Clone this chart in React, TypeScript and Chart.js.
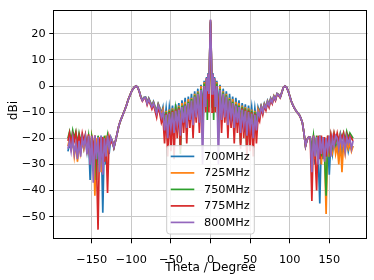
import React, { useEffect, useRef } from "react";
import { Chart, registerables } from "chart.js";

Chart.register(...registerables);

// Angle grid (degrees): 2-degree steps, 1-degree steps around boresight
const theta: number[] = [];
for (let t = -180; t <= -6; t += 2) theta.push(t);
for (let t = -5; t <= 5; t += 1) theta.push(t);
for (let t = 6; t <= 180; t += 2) theta.push(t);

const labels = ["700MHz", "725MHz", "750MHz", "775MHz", "800MHz"];
const colors = ["#1f77b4", "#ff7f0e", "#2ca02c", "#d62728", "#9467bd"];
const xTicks = [-150, -100, -50, 0, 50, 100, 150];
const yTicks = [-50, -40, -30, -20, -10, 0, 10, 20];

const s700 = [
  -25, -22, -24, -21, -25, -23, -27, -22, -25, -21, -24,
  -20, -25, -19.5, -36, -20, -30, -19, -27, -20, -26, -19, -48.5, -20, -30, -19.5, -26, -20,
  -21.3, -23.8, -21.2, -18.5, -15.7, -13.6, -12.1, -10.4, -8.9, -7.2, -5.2, -3.7, -2.2, -1.1, -0.3,
  0.1, -0.4, -1.9, -4, -5.3, -4.3, -4.2, -6.3, -4.6, -6, -7.4, -5.9, -7.8, -9.5, -6.7, -8.2, -10.5,
  -8, -14, -8.5, -15, -8, -13, -7.5, -16, -7, -12, -6.5, -14, -5.5, -11, -4.5, -13, -4, -10, -3, -12, -2, -9, -1, -11, 0.5, -8, 2, -4,
  3.5, -1, 5, -2, 12, 24.5, 12, -2, 5, -1, 3.5,
  -4, 2, -8, 0.5, -11, -1, -9, -2, -12, -3, -10, -4, -13, -4.5, -11, -5.5, -14, -6.5, -12, -7, -16, -7.5, -13, -8, -15, -8.5, -14, -8,
  -10, -7.5, -9.3, -6.6, -8, -5.5, -7, -4.6, -5.9, -3.7, -4.9, -2.8, -3.2, -4.1, -2.4, -0.5, 0.1,
  -0.4, -1.7, -3.7, -5.7, -7.2, -8.4, -9.4, -10.2, -10.9, -12.2, -13.9, -17.9, -22.8, -20.4, -19.6,
  -20, -26, -19.5, -30, -20, -27, -45, -20, -28, -20, -27, -20, -34, -21, -26, -21, -24,
  -22, -25, -21, -26, -22, -24, -21, -25, -22, -24, -23,
];

const s725 = [
  -23, -20, -24, -21, -27, -22, -29, -23, -26, -21, -24,
  -20, -24, -19, -29, -19, -22, -42, -20, -28, -19.5, -33, -20, -29, -19, -24, -19.5, -21,
  -21.2, -23.6, -21.1, -18.4, -15.6, -13.5, -12, -10.4, -8.9, -7.2, -5.2, -3.7, -2.2, -1.1, -0.3,
  0, -0.5, -2, -4.1, -5.4, -4.4, -4.4, -6.5, -4.8, -6.2, -7.7, -6.2, -8.1, -10, -7, -8.6, -11,
  -9, -16, -9.5, -18, -9, -15, -8.5, -17, -8, -14, -7.5, -17, -6.5, -13, -6, -15, -5, -12, -4.5, -14, -3, -11, -2, -13, 0, -15, 1.5, -6,
  3, -4, 4, -6, 11, 24, 11, -6, 4, -4, 3,
  -6, 1.5, -15, 0, -13, -2, -11, -3, -14, -4.5, -12, -5, -15, -6, -13, -6.5, -17, -7.5, -14, -8, -17, -8.5, -15, -9, -18, -9.5, -16, -9,
  -11, -7.8, -9.6, -6.9, -8.2, -5.8, -7.3, -4.8, -6.1, -3.8, -5, -2.9, -3.3, -4.2, -2.4, -0.5, 0,
  -0.5, -1.8, -3.8, -5.8, -7.3, -8.5, -9.5, -10.3, -11, -12.3, -14, -18, -23, -20.5, -19.5,
  -20, -25, -19, -28, -20, -26, -19.5, -30, -20, -26, -49, -20, -27, -21, -25, -20, -26,
  -23, -30, -21, -33, -22, -26, -21, -24, -22, -25, -23,
];

const s750 = [
  -20, -17.5, -21, -17, -20, -17.5, -22, -18, -21, -19, -22,
  -19, -23, -19, -27, -19.5, -24, -20, -36, -19, -27, -20, -31, -19, -25, -19, -23, -19.5,
  -21, -23.4, -21, -18.3, -15.5, -13.5, -12, -10.5, -9, -7.3, -5.3, -3.8, -2.3, -1.2, -0.4,
  0, -0.5, -2, -4.2, -5.5, -4.5, -4.5, -6.6, -4.9, -6.4, -7.9, -6.4, -8.5, -10.6, -7.3, -9.2, -12,
  -11, -15, -10, -21, -9.5, -14, -9, -17, -8.5, -13, -8, -26, -7.5, -12, -7, -17, -6, -11, -5, -14, -3.5, -10, -2.5, -12, -1, -20, 1, -6,
  2.5, -13, 4, -8, 12.5, 25, 12.5, -8, 4, -13, 2.5,
  -6, 1, -20, -1, -12, -2.5, -10, -3.5, -14, -5, -11, -6, -17, -7, -12, -7.5, -22, -8, -13, -8.5, -26, -9, -14, -9.5, -21, -10, -15, -11,
  -12, -8.2, -10.3, -7.3, -8.6, -6.1, -7.6, -5.1, -6.4, -4.1, -5.3, -3.1, -3.5, -4.4, -2.6, -0.6, 0,
  -0.5, -1.8, -3.8, -5.8, -7.3, -8.5, -9.5, -10.3, -11, -12.3, -14, -18, -23, -20.5, -19.5,
  -19.5, -24, -19, -26, -19, -29, -19, -27, -19.5, -26, -42, -19, -25, -19, -23, -18.5, -22,
  -19, -21, -18, -20, -18, -21, -17.5, -20, -18, -19, -20,
];

const s775 = [
  -21, -18, -22, -18.5, -21, -18, -23, -19, -22, -18, -21,
  -18.5, -24, -18.5, -30, -19, -25, -19, -29, -55, -20, -28, -19.5, -29, -20, -41, -19.5, -22,
  -21, -23.5, -21, -18.3, -15.5, -13.5, -12, -10.5, -9, -7.3, -5.3, -3.8, -2.3, -1.2, -0.4,
  0, -0.5, -2.1, -4.3, -5.8, -4.8, -4.7, -7.2, -5.3, -7, -8.8, -7, -9.5, -12, -8, -10.5, -14,
  -12, -22, -10.5, -27, -10, -25, -9.5, -28, -9, -20, -8.5, -24, -8, -18, -7.5, -22, -7, -16, -6, -20, -5, -14, -3.5, -18, -2, -13, 0, -10,
  3, -5, 4.5, -10, 13, 25.3, 13, -10, 4.5, -5, 3,
  -10, 0, -13, -2, -18, -3.5, -14, -5, -20, -6, -16, -7, -22, -7.5, -18, -8, -24, -8.5, -20, -9, -28, -9.5, -25, -10, -27, -10.5, -22, -12,
  -13.5, -8.6, -11, -7.6, -9.3, -6.5, -8.2, -5.4, -6.8, -4.3, -5.6, -3.2, -3.6, -4.5, -2.6, -0.6, 0,
  -0.5, -1.8, -3.8, -5.8, -7.3, -8.5, -9.5, -10.3, -11, -12.3, -14, -18, -23, -20.5, -19.5,
  -20, -44, -19, -26, -40, -19, -28, -19, -25, -19.5, -27, -19, -24, -18.5, -22, -18, -21,
  -18, -21, -18.5, -20, -18, -22, -18.5, -21, -19, -20, -21,
];

const s800 = [
  -24, -21, -25, -20, -26, -22, -28, -21, -27, -20, -23,
  -19.5, -26, -19, -30, -19, -37, -19, -28, -19.5, -33, -19, -34, -20, -27, -19, -24, -19.5,
  -21, -23.5, -21, -18.3, -15.5, -13.5, -12, -10.5, -9, -7.3, -5.3, -3.8, -2.3, -1.2, -0.4,
  0, -0.5, -2, -4.2, -5.6, -4.6, -4.5, -6.8, -5, -6.5, -8, -6.5, -8.5, -10.5, -7.4, -9, -12,
  -10, -17, -11, -20, -10.5, -16, -10, -18, -9.5, -15, -9, -19, -8, -14, -7.5, -16, -6.5, -13, -5.5, -15, -4, -12, -3, -14, -1.5, -30, 0, -8,
  3, -2, 4.5, -3, 13, 25.5, 13, -3, 4.5, -2, 3,
  -8, 0, -30, -1.5, -13, -3, -12, -4, -15, -5.5, -12, -6.5, -16, -7.5, -14, -8, -18, -9, -15, -9.5, -19, -10, -16, -10.5, -20, -11, -17, -10,
  -11.5, -8, -10, -7.2, -8.5, -6, -7.5, -5, -6.3, -4, -5.2, -3, -3.4, -4.3, -2.5, -0.6, 0,
  -0.5, -1.8, -3.8, -5.8, -7.3, -8.5, -9.5, -10.3, -11, -12.3, -14, -18, -23, -20.5, -19.5,
  -19.5, -33, -19, -27, -19.5, -30, -19, -26, -19.5, -29, -20, -25, -19, -27, -20, -23, -19,
  -20, -24, -19, -23, -20, -25, -19.5, -22, -20, -24, -21,
];

const seriesValues = [s700, s725, s750, s775, s800];

const FONT = "'DejaVu Sans', sans-serif";
const fmt = (v: number) => (v < 0 ? "\u2212" + Math.abs(v) : String(v));

const decorPlugin = {
  id: "decor",
  afterDatasetsDraw(chart: any) {
    const { ctx, chartArea } = chart;
    ctx.save();
    ctx.strokeStyle = "#000";
    ctx.lineWidth = 1;
    ctx.strokeRect(
      Math.round(chartArea.left) + 0.5,
      Math.round(chartArea.top) + 0.5,
      Math.round(chartArea.right - chartArea.left) - 1,
      Math.round(chartArea.bottom - chartArea.top) - 1
    );
    ctx.restore();
  },
  afterDraw(chart: any) {
    const { ctx, chartArea } = chart;
    ctx.save();
    // legend box (lower center, inside the axes)
    const bw = 87.6;
    const bh = 88.3;
    const cx = (chartArea.left + chartArea.right) / 2;
    const bx = cx - bw / 2;
    const by = chartArea.bottom - 5.3 - bh;
    const r = 3;
    ctx.beginPath();
    ctx.moveTo(bx + r, by);
    ctx.lineTo(bx + bw - r, by);
    ctx.quadraticCurveTo(bx + bw, by, bx + bw, by + r);
    ctx.lineTo(bx + bw, by + bh - r);
    ctx.quadraticCurveTo(bx + bw, by + bh, bx + bw - r, by + bh);
    ctx.lineTo(bx + r, by + bh);
    ctx.quadraticCurveTo(bx, by + bh, bx, by + bh - r);
    ctx.lineTo(bx, by + r);
    ctx.quadraticCurveTo(bx, by, bx + r, by);
    ctx.closePath();
    ctx.fillStyle = "rgba(255,255,255,0.85)";
    ctx.fill();
    ctx.strokeStyle = "#cccccc";
    ctx.lineWidth = 1;
    ctx.stroke();
    ctx.font = `11.3px ${FONT}`;
    ctx.textBaseline = "middle";
    ctx.textAlign = "left";
    chart.data.datasets.forEach((ds: any, i: number) => {
      const y = by + 10.7 + i * 16.5;
      ctx.strokeStyle = ds.borderColor;
      ctx.lineWidth = 1.7;
      ctx.beginPath();
      ctx.moveTo(bx + 4, y);
      ctx.lineTo(bx + 27.6, y);
      ctx.stroke();
      ctx.fillStyle = "#000";
      ctx.fillText(ds.label, bx + 37.3, y + 0.5);
    });
    // axis titles
    ctx.fillStyle = "#000";
    ctx.font = `12.1px ${FONT}`;
    ctx.textAlign = "center";
    ctx.textBaseline = "alphabetic";
    ctx.fillText("Theta / Degree", cx, 270.5);
    ctx.translate(17.3, 110.5);
    ctx.rotate(-Math.PI / 2);
    ctx.fillText("dBi", 0, 0);
    ctx.restore();
  },
};

export default function App() {
  const canvasRef = useRef<HTMLCanvasElement | null>(null);

  useEffect(() => {
    if (!canvasRef.current) return;
    const datasets = labels.map((label, i) => ({
      label,
      data: theta.map((t, k) => ({ x: t, y: seriesValues[i][k] })),
      borderColor: colors[i],
      backgroundColor: colors[i],
      borderWidth: 1.7,
      pointRadius: 0,
      tension: 0,
      fill: false,
      order: labels.length - 1 - i,
    }));
    const chart = new Chart(canvasRef.current, {
      type: "line",
      data: { datasets },
      options: {
        animation: false,
        responsive: false,
        maintainAspectRatio: false,
        events: [],
        layout: { padding: { left: 0, top: 6.3, right: 6.3, bottom: 0 } },
        plugins: { legend: { display: false }, tooltip: { enabled: false } },
        scales: {
          x: {
            type: "linear",
            min: -198.5,
            max: 198.5,
            afterBuildTicks: (s: any) => {
              s.ticks = xTicks.map((v) => ({ value: v }));
            },
            afterFit: (s: any) => {
              s.height = 40.7;
            },
            ticks: {
              callback: (v: any) => fmt(Number(v)),
              color: "#000",
              font: { family: FONT, size: 11.3 },
              padding: 10,
              maxRotation: 0,
              autoSkip: false,
            },
            grid: { color: "#c8c8c8", lineWidth: 1, drawTicks: true, tickLength: 4, tickColor: "#000", tickWidth: 1 },
            border: { display: false },
          },
          y: {
            type: "linear",
            min: -58.7,
            max: 29,
            afterBuildTicks: (s: any) => {
              s.ticks = yTicks.map((v) => ({ value: v }));
            },
            afterFit: (s: any) => {
              s.width = 53.3;
            },
            ticks: {
              callback: (v: any) => fmt(Number(v)),
              color: "#000",
              font: { family: FONT, size: 11.3 },
              padding: 3.6,
              autoSkip: false,
            },
            grid: { color: "#c8c8c8", lineWidth: 1, drawTicks: true, tickLength: 4, tickColor: "#000", tickWidth: 1 },
            border: { display: false },
          },
        },
      },
      plugins: [decorPlugin],
    } as any);
    return () => chart.destroy();
  }, []);

  return (
    <div style={{ position: "absolute", left: 0, top: 0, width: 374, height: 280, background: "#fff" }}>
      <canvas ref={canvasRef} width={374} height={280} style={{ width: 374, height: 280, display: "block" }} />
    </div>
  );
}
